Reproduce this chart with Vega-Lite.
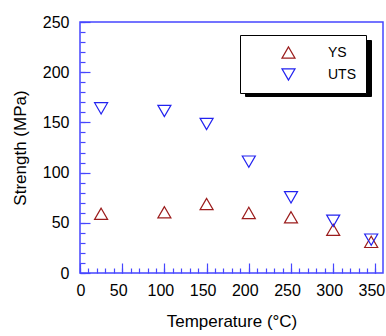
{
  "$schema": "https://vega.github.io/schema/vega-lite/v6.json",
  "width": 303,
  "height": 251,
  "autosize": {"type": "none"},
  "padding": {"left": 80, "top": 22, "right": 3, "bottom": 63},
  "background": "white",
  "config": {
    "font": "Liberation Sans",
    "view": {"stroke": "#4646ff", "strokeWidth": 1.5},
    "axis": {"domain": false, "grid": false, "tickColor": "#4646ff", "tickWidth": 1.2, "labelColor": "black", "titleColor": "black", "labelFont": "Liberation Sans", "titleFont": "Liberation Sans", "titleFontWeight": "normal"}
  },
  "data": {
    "values": [
      {"temp": 25, "strength": 59, "series": "YS"},
      {"temp": 100, "strength": 60.5, "series": "YS"},
      {"temp": 150, "strength": 68.7, "series": "YS"},
      {"temp": 200, "strength": 59.8, "series": "YS"},
      {"temp": 250, "strength": 55.5, "series": "YS"},
      {"temp": 300, "strength": 43, "series": "YS"},
      {"temp": 345, "strength": 31, "series": "YS"},
      {"temp": 25, "strength": 164, "series": "UTS"},
      {"temp": 100, "strength": 161.4, "series": "UTS"},
      {"temp": 150, "strength": 148.4, "series": "UTS"},
      {"temp": 200, "strength": 110.9, "series": "UTS"},
      {"temp": 250, "strength": 75.4, "series": "UTS"},
      {"temp": 300, "strength": 52, "series": "UTS"},
      {"temp": 345, "strength": 33.2, "series": "UTS"}
    ]
  },
  "layer": [
    {
      "mark": {"type": "point", "opacity": 0},
      "encoding": {
        "x": {"field": "temp", "type": "quantitative", "axis": {"orient": "bottom", "values": [0,50,100,150,200,250,300,350], "tickSize": -10, "labels": false, "title": null}},
        "y": {"field": "strength", "type": "quantitative", "axis": {"orient": "left", "values": [0,50,100,150,200,250], "tickSize": -10, "labels": false, "title": null}},
        "size": {"field": "series", "type": "ordinal", "scale": {"range": [170, 170]},
          "legend": {
            "title": null, "orient": "none", "legendX": 165, "legendY": 18, "zindex": 1,
            "fillColor": "black", "strokeColor": "black", "padding": 10,
            "symbolType": "triangle-up", "symbolStrokeWidth": 1.2, "symbolOpacity": 0, "symbolOffset": 31, "labelOffset": 60,
            "labelExpr": "''", "labelFontSize": 14, "labelFont": "Liberation Sans", "labelColor": "black", "rowPadding": 6,
            "encode": {"legend": {"update": {"strokeWidth": {"value": 2.5}}}}
          }}
      }
    },
    {
      "mark": {"type": "point", "filled": false, "size": 170, "strokeWidth": 1.2, "opacity": 1},
      "encoding": {
        "x": {"field": "temp", "type": "quantitative", "scale": {"domain": [0, 359], "nice": false},
          "axis": {"orient": "bottom", "values": [0,10,20,30,40,50,60,70,80,90,100,110,120,130,140,150,160,170,180,190,200,210,220,230,240,250,260,270,280,290,300,310,320,330,340,350], "tickSize": -5, "labels": false, "title": null}},
        "y": {"field": "strength", "type": "quantitative", "scale": {"domain": [0, 250], "nice": false},
          "axis": {"orient": "left", "values": [0,10,20,30,40,50,60,70,80,90,100,110,120,130,140,150,160,170,180,190,200,210,220,230,240,250], "tickSize": -5, "labels": false, "title": null}},
        "color": {"field": "series", "type": "nominal", "scale": {"domain": ["YS", "UTS"], "range": ["#9b1c1c", "#2222f0"]},
          "legend": {
            "title": null, "orient": "none", "legendX": 160, "legendY": 13, "zindex": 2,
            "strokeColor": "black", "fillColor": "white", "padding": 10,
            "symbolSize": 170, "symbolStrokeWidth": 1.2, "symbolOffset": 31, "labelOffset": 32,
            "labelFontSize": 14, "labelFont": "Liberation Sans", "rowPadding": 5,
            "encode": {
              "legend": {"update": {"strokeWidth": {"value": 2.5}}},
              "labels": {"update": {"fill": {"signal": "datum.value === 'YS' ? '#9b1c1c' : '#2222f0'"}}}
            }
          }},
        "shape": {"field": "series", "type": "nominal", "scale": {"domain": ["YS", "UTS"], "range": ["triangle-up", "triangle-down"]}}
      }
    },
    {
      "mark": {"type": "point", "opacity": 0},
      "encoding": {
        "x": {"field": "temp", "type": "quantitative", "axis": {"orient": "bottom", "values": [0,50,100,150,200,250,300,350], "ticks": false, "labelPadding": 9, "labelFontSize": 16, "labelOffset": -4, "title": "Temperature (°C)", "titleFontSize": 17, "titlePadding": 15}},
        "y": {"field": "strength", "type": "quantitative", "axis": {"orient": "left", "values": [0,50,100,150,200,250], "ticks": false, "labelPadding": 11, "labelFontSize": 16, "title": "Strength (MPa)", "titleFontSize": 17, "titlePadding": 13}}
      }
    }
  ],
  "resolve": {"axis": {"x": "independent", "y": "independent"}}
}
